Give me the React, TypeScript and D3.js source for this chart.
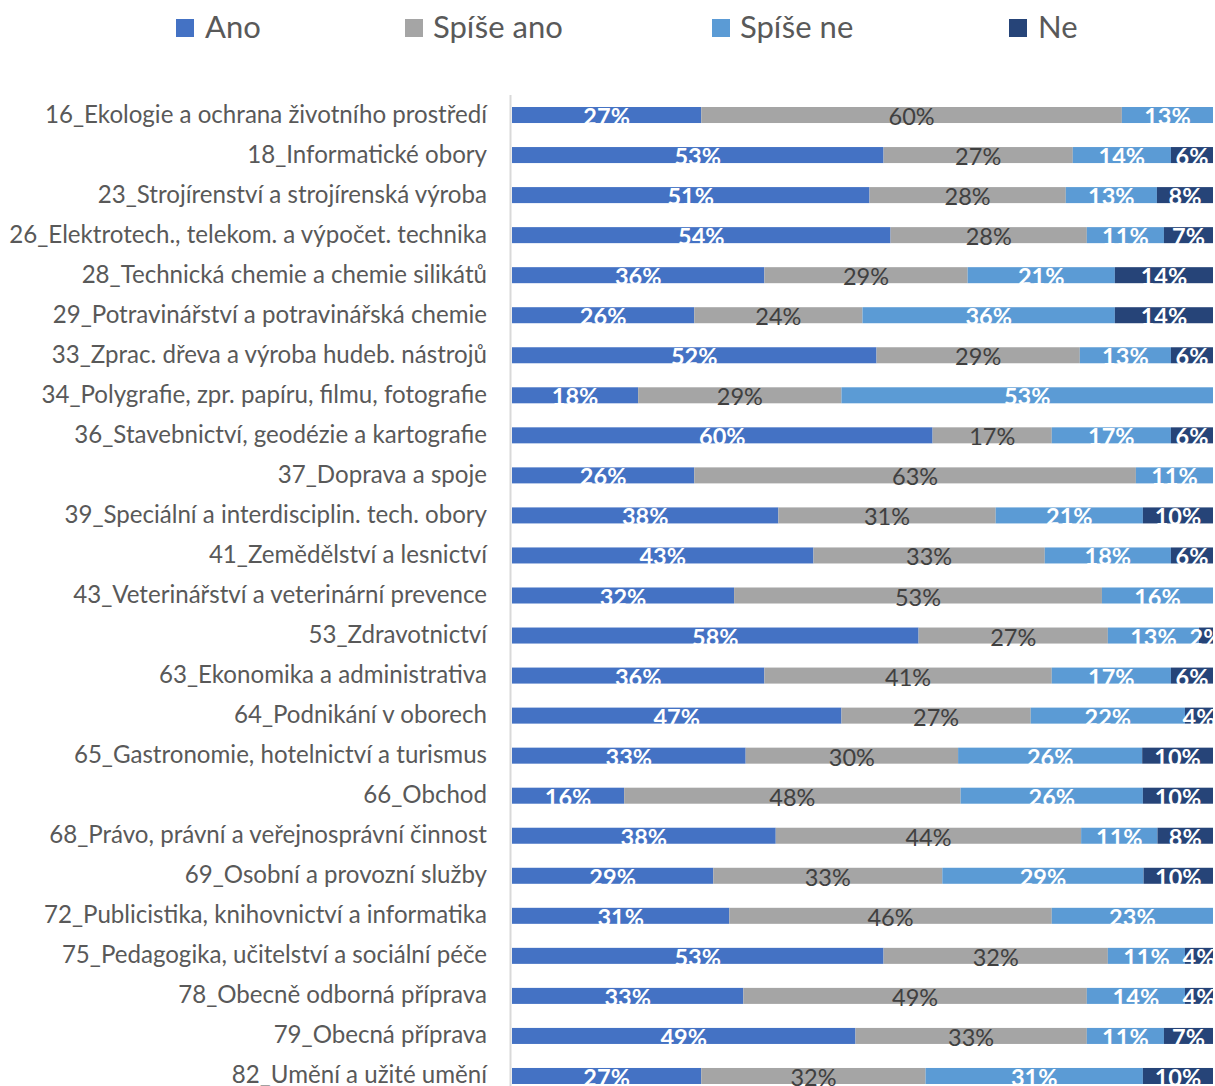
import React, { useMemo } from "react";
import * as d3 from "d3";

const WIDTH = 1215;
const HEIGHT = 1086;
const FONT = "Lato, 'Noto Sans', sans-serif";

const categories = [
  "16_Ekologie a ochrana životního prostředí",
  "18_Informatické obory",
  "23_Strojírenství a strojírenská výroba",
  "26_Elektrotech., telekom. a výpočet. technika",
  "28_Technická chemie a chemie silikátů",
  "29_Potravinářství a potravinářská chemie",
  "33_Zprac. dřeva a výroba hudeb. nástrojů",
  "34_Polygrafie, zpr. papíru, filmu, fotografie",
  "36_Stavebnictví, geodézie a kartografie",
  "37_Doprava a spoje",
  "39_Speciální a interdisciplin. tech. obory",
  "41_Zemědělství a lesnictví",
  "43_Veterinářství a veterinární prevence",
  "53_Zdravotnictví",
  "63_Ekonomika a administrativa",
  "64_Podnikání v oborech",
  "65_Gastronomie, hotelnictví a turismus",
  "66_Obchod",
  "68_Právo, právní a veřejnosprávní činnost",
  "69_Osobní a provozní služby",
  "72_Publicistika, knihovnictví a informatika",
  "75_Pedagogika, učitelství a sociální péče",
  "78_Obecně odborná příprava",
  "79_Obecná příprava",
  "82_Umění a užité umění",
];

const seriesNames = ["Ano", "Spíše ano", "Spíše ne", "Ne"];
const seriesColors = ["#4472C4", "#A5A5A5", "#5B9BD5", "#264478"];

const ano = [27, 53, 51, 54, 36, 26, 52, 18, 60, 26, 38, 43, 32, 58, 36, 47, 33, 16, 38, 29, 31, 53, 33, 49, 27];
const spiseAno = [60, 27, 28, 28, 29, 24, 29, 29, 17, 63, 31, 33, 53, 27, 41, 27, 30, 48, 44, 33, 46, 32, 49, 33, 32];
const spiseNe = [13, 14, 13, 11, 21, 36, 13, 53, 17, 11, 21, 18, 16, 13, 17, 22, 26, 26, 11, 29, 23, 11, 14, 11, 31];
const ne = [0, 6, 8, 7, 14, 14, 6, 0, 6, 0, 10, 6, 0, 2, 6, 4, 10, 10, 8, 10, 0, 4, 4, 7, 10];

// legend item positions (square left edge, text left edge)
const legendX = [
  { sq: 176, tx: 205 },
  { sq: 405, tx: 433 },
  { sq: 712, tx: 740 },
  { sq: 1009, tx: 1038 },
];

export default function App() {
  const rows = useMemo(
    () =>
      categories.map((c, i) => ({
        cat: c,
        "Ano": ano[i],
        "Spíše ano": spiseAno[i],
        "Spíše ne": spiseNe[i],
        "Ne": ne[i],
      })),
    []
  );

  const stacked = useMemo(
    () => d3.stack<any>().keys(seriesNames).offset(d3.stackOffsetExpand)(rows),
    [rows]
  );

  const x = d3.scaleLinear().domain([0, 1]).range([512, 1213]);
  const y = d3
    .scaleBand()
    .domain(categories)
    .range([95, 1096])
    .paddingInner(0.6)
    .paddingOuter(0.3);
  const bw = y.bandwidth();

  return (
    <svg
      width={WIDTH}
      height={HEIGHT}
      style={{ position: "absolute", left: 0, top: 0, background: "#fff" }}
      fontFamily={FONT}
    >
      {/* legend */}
      {seriesNames.map((s, i) => (
        <g key={s}>
          <rect x={legendX[i].sq} y={19} width={18} height={18} fill={seriesColors[i]} />
          <text x={legendX[i].tx} y={38} fontSize={31} fill="#595959">
            {s}
          </text>
        </g>
      ))}

      {/* category labels */}
      {categories.map((c) => (
        <text
          key={c}
          x={487}
          y={(y(c) as number) + bw / 2 + 7.5}
          textAnchor="end"
          fontSize={24.1}
          fill="#595959"
        >
          {c}
        </text>
      ))}

      {/* bars */}
      {stacked.map((layer, si) => (
        <g key={layer.key} fill={seriesColors[si]}>
          {layer.map((d, j) => {
            const w = x(d[1]) - x(d[0]);
            if (w <= 0) return null;
            return (
              <rect
                key={j}
                x={x(d[0])}
                y={y(categories[j])}
                width={w}
                height={bw}
              />
            );
          })}
        </g>
      ))}

      {/* value labels */}
      {stacked.map((layer, si) => (
        <g key={"l" + layer.key}>
          {layer.map((d, j) => {
            const v = (d.data as any)[layer.key] as number;
            if (!v) return null;
            const grey = si === 1;
            return (
              <text
                key={j}
                x={(x(d[0]) + x(d[1])) / 2}
                y={(y(categories[j]) as number) + bw / 2 + 10}
                textAnchor="middle"
                fontSize={23.5}
                fontWeight={grey ? 400 : 700}
                fill={grey ? "#404040" : "#ffffff"}
              >
                {v}%
              </text>
            );
          })}
        </g>
      ))}

      {/* vertical axis line */}
      <line x1={510.5} x2={510.5} y1={95} y2={HEIGHT} stroke="#D9D9D9" strokeWidth={2} />
    </svg>
  );
}
